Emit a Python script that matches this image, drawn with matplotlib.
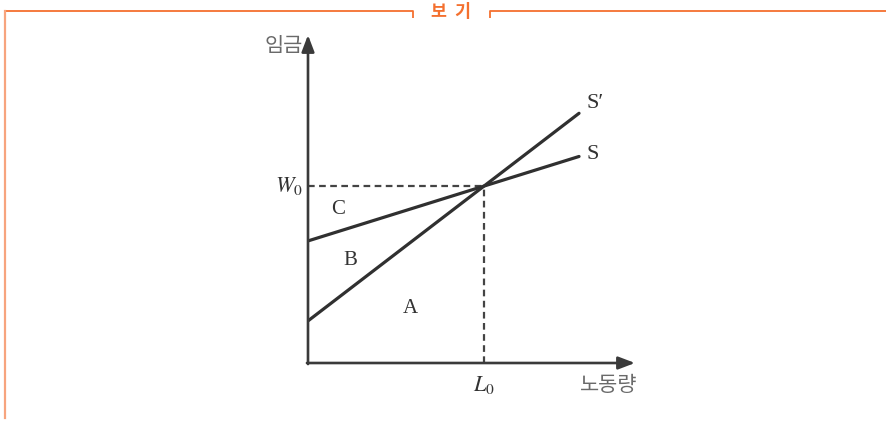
import matplotlib
matplotlib.use("Agg")
import matplotlib.pyplot as plt

# ---- data (abstract units) ----
L0 = 5.0
W0 = 5.0
x_max = 9.29
y_max = 9.27
s_intercept = 3.45          # S line: wage at zero labour
sp_intercept = 1.19         # S' line
line_end_x = 7.70
title_text = "보  기"
y_label = "임금"
x_label = "노동량"
region_labels = ["C", "B", "A"]
region_pos = [(0.85, 4.35), (1.2, 2.9), (2.9, 1.55)]

s_slope = (W0 - s_intercept) / L0
sp_slope = (W0 - sp_intercept) / L0

W, H = 886, 422
fig = plt.figure(figsize=(W / 100, H / 100), dpi=100)

# background axes in pixel coords for the frame
bg = fig.add_axes([0, 0, 1, 1])
bg.set_xlim(0, W)
bg.set_ylim(H, 0)
bg.axis("off")
orange = "#F4702F"
bg.plot([5, 413, 413], [10.5, 10.5, 18], color=orange, lw=1.3, solid_capstyle="butt")
bg.plot([490, 490, 886], [18, 10.5, 10.5], color=orange, lw=1.3, solid_capstyle="butt")
bg.plot([5.3, 5.3], [10.5, 418], color="#F7A47E", lw=1.6)
bg.text(451, 12, title_text, color=orange, fontsize=12.5, fontweight="bold",
        ha="center", va="center", family=["Noto Sans CJK KR", "DejaVu Sans"])

# chart axes
ox, oy = 308, 363
ax = fig.add_axes([ox / W, (H - oy) / H, (635 - ox) / W, (oy - 35) / H])
ax.set_xlim(0, x_max)
ax.set_ylim(0, y_max)
ax.axis("off")
ax.patch.set_alpha(0)

arrow_kw = dict(arrowstyle="-|>,head_length=1.0,head_width=0.38", color="#3a3a3a",
                lw=1.9, shrinkA=0, shrinkB=0)
ax.annotate("", xy=(0, y_max), xytext=(0, -0.03), arrowprops=arrow_kw,
            annotation_clip=False)
ax.annotate("", xy=(x_max, 0), xytext=(-0.03, 0), arrowprops=arrow_kw,
            annotation_clip=False)

# dashed guides
ax.plot([0, L0], [W0, W0], ls=(0, (3.0, 2.0)), color="#444444", lw=1.6)
ax.plot([L0, L0], [0, W0], ls=(0, (3.0, 2.0)), color="#444444", lw=1.6)

# supply lines
xs = [0, line_end_x]
ax.plot(xs, [s_intercept, s_intercept + s_slope * line_end_x], color="#303030", lw=2.3,
        solid_capstyle="round")
ax.plot(xs, [sp_intercept, sp_intercept + sp_slope * line_end_x], color="#303030", lw=2.3,
        solid_capstyle="round")

serif = ["Liberation Serif", "DejaVu Serif"]
tc = "#333333"
ax.text(line_end_x + 0.22, sp_intercept + sp_slope * line_end_x + 0.28, "S\u2032",
        fontsize=16, family=serif, color=tc, ha="left", va="center")
ax.text(line_end_x + 0.22, s_intercept + s_slope * line_end_x + 0.05, "S",
        fontsize=16, family=serif, color=tc, ha="left", va="center")

for lab, (px, py) in zip(region_labels, region_pos):
    ax.text(px, py, lab, fontsize=15, family=serif, color=tc, ha="center", va="center")

ax.text(-0.15, W0, "$W_0$", fontsize=16, color=tc, ha="right", va="center",
        math_fontfamily="stix")
ax.text(L0, -0.63, "$L_0$", fontsize=16, color=tc, ha="center", va="center",
        math_fontfamily="stix")

kr = ["Noto Sans CJK KR", "DejaVu Sans"]
ax.text(-0.15, y_max - 0.3, y_label, fontsize=15, family=kr, color="#6a6a6a",
        ha="right", va="center")
ax.text(x_max - 0.75, -0.63, x_label, fontsize=15, family=kr, color="#6a6a6a",
        ha="center", va="center")

fig.savefig("out.png", dpi=100)
